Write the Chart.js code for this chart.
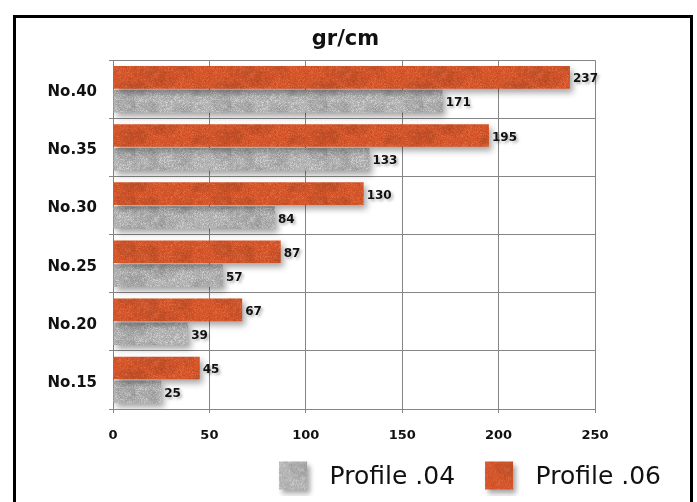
<!DOCTYPE html>
<html>
<head>
<meta charset="utf-8">
<script src="https://cdn.jsdelivr.net/npm/chart.js@4/dist/chart.umd.min.js"></script>
<style>
  html, body { margin: 0; padding: 0; background: #fff; }
  #wrap { position: relative; width: 697px; height: 502px; overflow: hidden; }
  #frame { position: absolute; left: 13px; top: 15px; width: 680px; height: 600px;
           box-sizing: border-box; border: 3px solid #000; }
  #c { position: absolute; left: 0; top: 0; }
</style>
</head>
<body>
<div id="wrap">
  <div id="frame"></div>
  <canvas id="c" width="697" height="502"></canvas>
</div>
<script>
// Sieve sizes, top row first
const categories = ['No.40', 'No.35', 'No.30', 'No.25', 'No.20', 'No.15'];
// Weight per length (gr/cm) for each profile
const profile06 = [237, 195, 130, 87, 67, 45];
const profile04 = [171, 133, 84, 57, 39, 25];
const seriesNames = ['Profile .06', 'Profile .04'];
const xTicks = [0, 50, 100, 150, 200, 250];
const titleText = 'gr/cm';

// Small hash used to speckle the bar fills so they look like paper/stone
function hash(x, y) {
  const s = Math.sin(x * 127.1 + y * 311.7) * 43758.5453;
  return s - Math.floor(s);
}
function textureCanvas(base, light, dark) {
  const cv = document.createElement('canvas');
  cv.width = 96; cv.height = 48;
  const g = cv.getContext('2d');
  g.fillStyle = base;
  g.fillRect(0, 0, cv.width, cv.height);
  for (let y = 0; y < cv.height; y++) {
    for (let x = 0; x < cv.width; x++) {
      const h = hash(x, y);
      if (h > 0.82) { g.fillStyle = light; g.fillRect(x, y, 1, 1); }
      else if (h < 0.14) { g.fillStyle = dark; g.fillRect(x, y, 1, 1); }
    }
  }
  // soft mottling
  for (let i = 0; i < 14; i++) {
    const cx = hash(i, 3) * cv.width, cy = hash(i, 7) * cv.height, r = 6 + hash(i, 11) * 10;
    const grd = g.createRadialGradient(cx, cy, 0, cx, cy, r);
    grd.addColorStop(0, i % 2 ? light : dark);
    grd.addColorStop(1, 'rgba(0,0,0,0)');
    g.globalAlpha = 0.35;
    g.fillStyle = grd;
    g.fillRect(cx - r, cy - r, r * 2, r * 2);
    g.globalAlpha = 1;
  }
  return cv;
}
const orangeTex = textureCanvas('#d5562a', 'rgba(230,115,75,0.6)', 'rgba(185,65,25,0.5)');
const grayTex = textureCanvas('#b4b4b4', 'rgba(215,215,215,0.7)', 'rgba(145,145,145,0.5)');
const ctxTmp = document.createElement('canvas').getContext('2d');
const orangeFill = ctxTmp.createPattern(orangeTex, 'repeat');
const grayFill = ctxTmp.createPattern(grayTex, 'repeat');

// Legend swatch: leading gap, textured 28px square with a soft shadow, trailing gap
const LEAD = 10;
const SWATCH_W = LEAD + 38;
function swatch(tex) {
  const cv = document.createElement('canvas');
  cv.width = SWATCH_W; cv.height = 36;
  const g = cv.getContext('2d');
  g.shadowColor = 'rgba(0,0,0,0.35)';
  g.shadowBlur = 5;
  g.shadowOffsetX = 3;
  g.shadowOffsetY = 4;
  g.fillStyle = g.createPattern(tex, 'repeat');
  g.fillRect(LEAD, 2, 28, 28);
  return cv;
}
const orangeSwatch = swatch(orangeTex);
const graySwatch = swatch(grayTex);

const FONT = '"DejaVu Sans", sans-serif';

// Soft drop shadow behind each bar series
const barShadow = {
  id: 'barShadow',
  beforeDatasetDraw(chart) {
    const ctx = chart.ctx;
    ctx.save();
    ctx.shadowColor = 'rgba(0,0,0,0.35)';
    ctx.shadowBlur = 6;
    ctx.shadowOffsetX = 3;
    ctx.shadowOffsetY = 4;
  },
  afterDatasetDraw(chart) {
    chart.ctx.restore();
  }
};

// Value written just past the end of every bar
const valueLabels = {
  id: 'valueLabels',
  afterDatasetsDraw(chart) {
    const ctx = chart.ctx;
    ctx.save();
    ctx.font = 'bold 12px ' + FONT;
    ctx.fillStyle = '#111';
    ctx.textAlign = 'left';
    ctx.textBaseline = 'middle';
    ctx.shadowColor = 'rgba(0,0,0,0.3)';
    ctx.shadowBlur = 3;
    ctx.shadowOffsetX = 2;
    ctx.shadowOffsetY = 2;
    chart.data.datasets.forEach((ds, di) => {
      const meta = chart.getDatasetMeta(di);
      meta.data.forEach((bar, i) => {
        ctx.fillText(String(ds.data[i]), bar.x + 3, bar.y + 2);
      });
    });
    ctx.restore();
  }
};

new Chart(document.getElementById('c'), {
  type: 'bar',
  data: {
    labels: categories,
    datasets: [
      { label: seriesNames[0], data: profile06, backgroundColor: orangeFill, borderWidth: 0, pointStyle: orangeSwatch },
      { label: seriesNames[1], data: profile04, backgroundColor: grayFill, borderWidth: 0, pointStyle: graySwatch }
    ]
  },
  options: {
    indexAxis: 'y',
    responsive: false,
    animation: false,
    devicePixelRatio: 1,
    layout: { padding: { top: 20, left: 10, right: 16, bottom: 2 } },
    datasets: { bar: { categoryPercentage: 0.82, barPercentage: 0.95 } },
    scales: {
      x: {
        min: 0, max: 250,
        afterBuildTicks(s) { s.ticks = xTicks.map(v => ({ value: v })); },
        afterFit(s) { s.height = 36; },
        grid: { color: '#858585', lineWidth: 1, tickLength: 4 },
        border: { color: '#858585' },
        ticks: { padding: 15, color: '#111', font: { family: FONT, size: 13, weight: 'bold' } }
      },
      y: {
        afterFit(s) { s.width = 103; },
        grid: { color: '#858585', lineWidth: 1, tickLength: 4, offset: true },
        border: { color: '#858585' },
        ticks: { padding: 12, labelOffset: 3, color: '#111', font: { family: FONT, size: 15, weight: 'bold' } }
      },
      yRight: {
        type: 'category',
        position: 'right',
        afterFit(s) { s.width = 86; },
        grid: { display: false, drawTicks: false },
        border: { display: false },
        ticks: { display: false }
      }
    },
    plugins: {
      title: {
        display: true, text: titleText, color: '#111',
        font: { family: FONT, size: 21, weight: 'bold' },
        padding: { top: 7, bottom: 8 }
      },
      legend: {
        position: 'bottom', align: 'end', reverse: true,
        labels: {
          usePointStyle: true, pointStyleWidth: SWATCH_W,
          boxWidth: 28, boxHeight: 28, padding: 20, color: '#111',
          font: { family: FONT, size: 25 }
        }
      },
      tooltip: { enabled: false }
    }
  },
  plugins: [barShadow, valueLabels]
});
</script>
</body>
</html>
